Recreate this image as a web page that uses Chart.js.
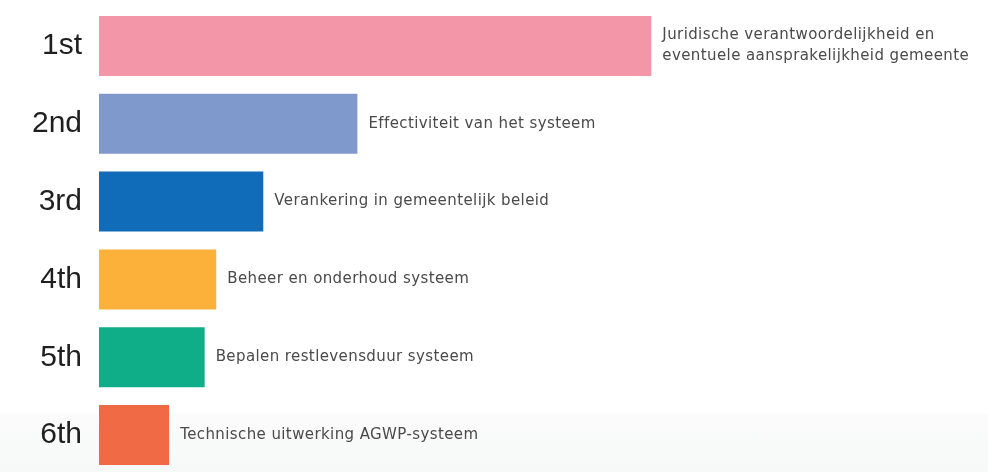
<!DOCTYPE html>
<html>
<head>
<meta charset="utf-8">
<script src="https://cdn.jsdelivr.net/npm/chart.js@4/dist/chart.umd.min.js"></script>
<style>
  html, body { margin: 0; padding: 0; background: #ffffff; }
  #wrap { position: relative; width: 988px; height: 472px; overflow: hidden;
          background: linear-gradient(to bottom, #ffffff 0px, #ffffff 413px, #fbfbfb 414px, #f7f8f8 472px); }
  #c { position: absolute; left: 0; top: 0; }
</style>
</head>
<body>
<div id="wrap"><canvas id="c" width="988" height="480"></canvas></div>
<script>
const ranks = ["1st", "2nd", "3rd", "4th", "5th", "6th"];
const topics = [
  ["Juridische verantwoordelijkheid en", "eventuele aansprakelijkheid gemeente"],
  ["Effectiviteit van het systeem"],
  ["Verankering in gemeentelijk beleid"],
  ["Beheer en onderhoud systeem"],
  ["Bepalen restlevensduur systeem"],
  ["Technische uitwerking AGWP-systeem"]
];
const scores = [6.22, 2.91, 1.85, 1.32, 1.19, 0.79];
const colors = ["#F396A8", "#7F99CC", "#106BB8", "#FCB23A", "#0FAE88", "#F06A46"];

const barLabels = {
  id: "barLabels",
  afterDatasetsDraw(chart) {
    const ctx = chart.ctx;
    const meta = chart.getDatasetMeta(0);
    ctx.save();
    ctx.font = "15px 'DejaVu Sans'";
    try { ctx.letterSpacing = "0.4px"; } catch (e) {}
    ctx.fillStyle = "#4a4a4a";
    ctx.textBaseline = "middle";
    ctx.textAlign = "left";
    meta.data.forEach((bar, i) => {
      const lines = topics[i];
      const lh = 21;
      const y0 = bar.y - (lines.length - 1) * lh / 2;
      lines.forEach((t, j) => ctx.fillText(t, bar.x + 11, y0 + j * lh));
    });
    ctx.restore();
  }
};

new Chart(document.getElementById("c"), {
  type: "bar",
  data: {
    labels: ranks,
    datasets: [{
      data: scores,
      backgroundColor: colors,
      borderWidth: 0,
      barPercentage: 0.77,
      categoryPercentage: 1.0
    }]
  },
  options: {
    indexAxis: "y",
    responsive: false,
    animation: false,
    layout: { padding: { top: 7, bottom: 6, left: 0, right: 1 } },
    plugins: { legend: { display: false }, tooltip: { enabled: false } },
    scales: {
      x: { display: false, min: 0, max: 10 },
      y: {
        afterFit: s => { s.width = 99; s.paddingTop = 0; s.paddingBottom = 0; },
        border: { display: false },
        grid: { display: false, drawTicks: false },
        ticks: { padding: 17, color: "#1f1f1f", font: { family: "Liberation Sans", size: 30 } }
      }
    }
  },
  plugins: [barLabels]
});
</script>
</body>
</html>
